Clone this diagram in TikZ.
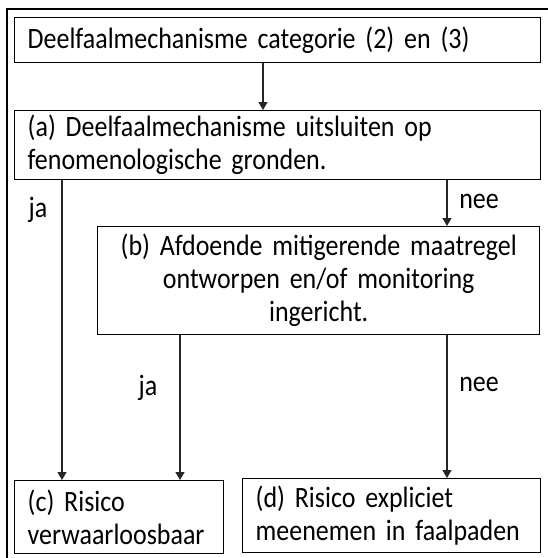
\documentclass[tikz,border=0pt]{standalone}
\usepackage{fontspec}
\setmainfont{Carlito}[FakeStretch=0.88]
\usetikzlibrary{arrows.meta}

\begin{document}
\begin{tikzpicture}[x=1pt,y=-1pt,
  every node/.style={font=\fontsize{29.5}{33}\selectfont},
  box/.style={draw=black, line width=1.4pt, rectangle, anchor=north west,
    inner xsep=13pt, inner ysep=0pt},
  lbox/.style={box, align=left},
  cbox/.style={box, align=center},
  arr/.style={draw=black!85, line width=1.1pt,
    -{Triangle[width=9pt,length=8pt]}},
  lab/.style={inner sep=0pt}]
\useasboundingbox (0,0) rectangle (548,558);
\fill[white] (0,0) rectangle (548,558);
\clip (0,0) rectangle (548,558);

% outer frame
\draw[line width=1.6pt] (7,9) rectangle (600,600);

% boxes
\node[lbox, minimum width=526pt, minimum height=45pt, text width=500pt]
  (top) at (14,17) {Deelfaalmechanisme categorie (2) en (3)};
\node[lbox, minimum width=526pt, minimum height=69pt, text width=500pt]
  (a) at (14,110) {(a) Deelfaalmechanisme uitsluiten op\\fenomenologische gronden.};
\node[cbox, minimum width=442pt, minimum height=108pt, text width=416pt]
  (b) at (97,226) {(b) Afdoende mitigerende maatregel\\ontworpen en/of monitoring\\ingericht.};
\node[lbox, minimum width=209pt, minimum height=73pt, text width=183pt]
  (c) at (14,480) {(c) Risico\\verwaarloosbaar};
\node[lbox, minimum width=298pt, minimum height=74pt, text width=272pt]
  (d) at (242,478) {(d) Risico expliciet\\meenemen in faalpaden};

% connector columns
\coordinate (xtop) at (263,0);
\coordinate (xja) at (62,0);
\coordinate (xnee) at (447,0);
\coordinate (xjb) at (180,0);

% connectors
\draw[arr] (top.south -| xtop) -- (a.north -| xtop);
\draw[arr] (a.south -| xja) -- (c.north -| xja);
\draw[arr] (a.south -| xnee) -- (b.north -| xnee);
\draw[arr] (b.south -| xjb) -- (c.north -| xjb);
\draw[arr] (b.south -| xnee) -- (d.north -| xnee);

% labels
\node[lab] (l1) at (38,210) {ja};
\node[lab] (l2) at (479,201) {nee};
\node[lab] (l3) at (148,388) {ja};
\node[lab] (l4) at (479,384) {nee};
\end{tikzpicture}
\end{document}
